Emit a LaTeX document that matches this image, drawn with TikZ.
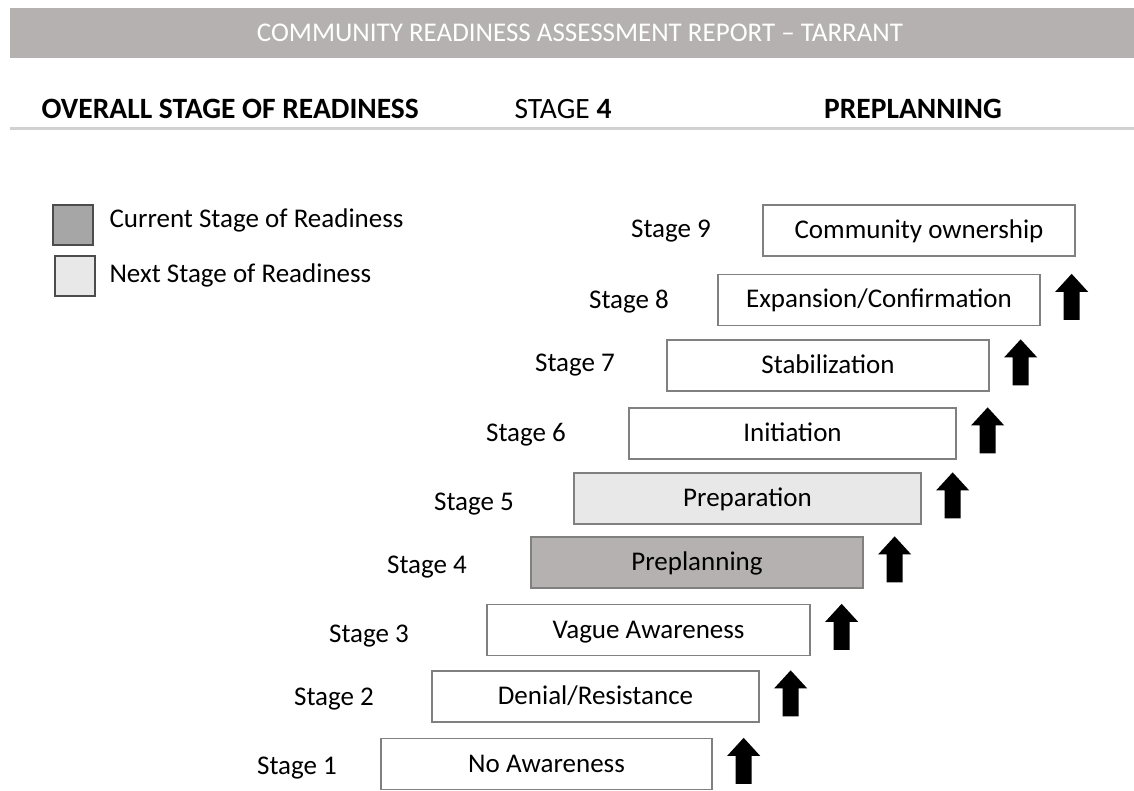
\documentclass[tikz,border=0pt]{standalone}
\usepackage{fontspec}
\setmainfont{Carlito}
\usepackage{tikz}
\usetikzlibrary{positioning,calc}
\definecolor{bargray}{HTML}{B5B1B0}
\definecolor{curgray}{HTML}{B5B1B0}
\definecolor{nextgray}{HTML}{E8E8E8}
\definecolor{edgegray}{HTML}{808080}
\tikzset{
  stagebox/.style={draw=edgegray, line width=1.3pt, fill=white,
    minimum height=51pt, inner sep=0pt, text height=20pt, text depth=4pt,
    font=\fontsize{27}{31}\selectfont},
  stagelabel/.style={font=\fontsize{27}{31}\selectfont},
  headtext/.style={font=\fontsize{29.5}{34}\selectfont},
  headbold/.style={font=\fontsize{29.5}{34}\selectfont\bfseries},
  legendbox/.style={draw=black!70, line width=2pt, minimum width=40pt,
    minimum height=40pt, inner sep=0pt},
  uparrow/.style={fill=black}
}

\begin{document}
\begin{tikzpicture}[x=1pt,y=-1pt]

  \newcommand\UpArrow[1]{% block arrow right of a stage box
    \fill[uparrow] ($(#1.north east)+(31,0)$) -- ++(16.5,18) -- ++(-8.5,0)
    -- ++(0,28) -- ++(-16,0) -- ++(0,-28) -- ++(-8.5,0) -- cycle;}

  \useasboundingbox (0,0) rectangle (1134,791);

  %% header
  \fill[bargray] (10,8) rectangle (1134,58);
  \node[text=white, font=\fontsize{27}{31}\selectfont] (title) at (580,33)
  {COMMUNITY READINESS ASSESSMENT REPORT -- TARRANT};

  \node[headbold, anchor=west] (overall) at (38,109)
  {OVERALL STAGE OF READINESS};
  \node[headtext, anchor=west] (stagenum) at (511,109)
  {STAGE \textbf{4}};
  \node[headbold] (stagename) at (913,109)
  {PREPLANNING};
  \draw[black!18, line width=3pt] (10,129) -- (1134,129);

  %% legend
  \node[legendbox, fill=black!35] (curbox) at (73,225) {};
  \node[stagelabel, anchor=west] (curtext) at (106,220) {Current Stage of Readiness};
  \node[legendbox, fill=nextgray, line width=1.6pt] (nextbox) at (75,276) {};
  \node[stagelabel, anchor=west] (nexttext) at (106,275) {Next Stage of Readiness};

  %% stages
  \node[stagebox, minimum width=331pt] (s1) at (546.5,764) {No Awareness};
  \node[stagebox, minimum width=327pt] (s2) at (595.5,696.5) {Denial/Resistance};
  \node[stagebox, minimum width=323pt] (s3) at (648.5,630) {Vague Awareness};
  \node[stagebox, minimum width=332pt, fill=curgray] (s4) at (697,562.5) {Preplanning};
  \node[stagebox, minimum width=347pt, fill=nextgray] (s5) at (747.5,498.5) {Preparation};
  \node[stagebox, minimum width=327pt] (s6) at (792.5,433.5) {Initiation};
  \node[stagebox, minimum width=322pt] (s7) at (828,365.5) {Stabilization};
  \node[stagebox, minimum width=322pt] (s8) at (879,300) {Expansion/Confirmation};
  \node[stagebox, minimum width=312pt] (s9) at (919,230.5) {Community ownership};

  \node[stagelabel] (l1) at (297,768) {Stage 1};
  \node[stagelabel] (l2) at (334,699) {Stage 2};
  \node[stagelabel] (l3) at (369,636) {Stage 3};
  \node[stagelabel] (l4) at (427,567) {Stage 4};
  \node[stagelabel] (l5) at (474,504) {Stage 5};
  \node[stagelabel] (l6) at (526,435) {Stage 6};
  \node[stagelabel] (l7) at (575,365) {Stage 7};
  \node[stagelabel] (l8) at (629,302) {Stage 8};
  \node[stagelabel] (l9) at (671,231) {Stage 9};

  \UpArrow{s1}
  \UpArrow{s2}
  \UpArrow{s3}
  \UpArrow{s4}
  \UpArrow{s5}
  \UpArrow{s6}
  \UpArrow{s7}
  \UpArrow{s8}

\end{tikzpicture}
\end{document}
